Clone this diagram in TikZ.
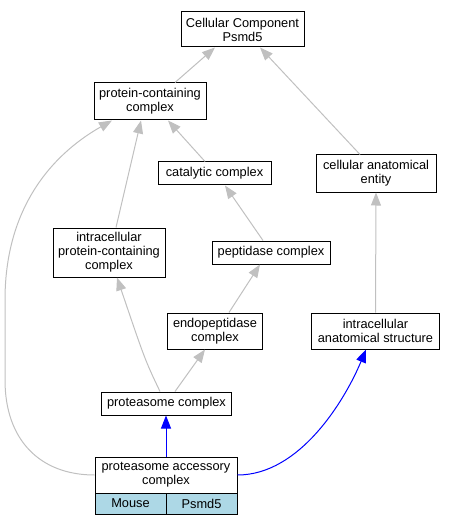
\documentclass[tikz,border=0pt]{standalone}
\usepackage{fontspec}
\setmainfont{Liberation Sans}
\usetikzlibrary{arrows.meta}
\definecolor{edgegray}{RGB}{192,192,192}
\definecolor{cellblue}{RGB}{173,216,230}
\tikzset{
  box/.style={draw=black, line width=1bp, fill=white, inner sep=0pt, align=center,
    font=\fontsize{12.8bp}{14bp}\selectfont},
  cell/.style={box, fill=cellblue, minimum width=71bp, minimum height=21bp},
  isa/.style={draw=edgegray, line width=1bp, -{Triangle[length=13bp,width=10bp]}},
  hit/.style={draw=blue, line width=1bp, -{Triangle[length=13bp,width=10bp]}},
}
\begin{document}
\begin{tikzpicture}[x=1bp,y=-1bp]
\useasboundingbox (0,0) rectangle (456,525);
\node[box, minimum width=123bp, minimum height=35bp] (cc) at (242.5,29.5) {Cellular Component\\Psmd5};
\node[box, minimum width=112bp, minimum height=37bp] (pcc) at (150,101.5) {protein-containing\\complex};
\node[box, minimum width=113bp, minimum height=23bp] (cat) at (214.5,173.5) {catalytic complex};
\node[box, minimum width=120bp, minimum height=37bp] (cae) at (376,173.5) {cellular anatomical\\entity};
\node[box, minimum width=112bp, minimum height=49bp] (ipcc) at (109,252.5) {intracellular\\protein-containing\\complex};
\node[box, minimum width=118bp, minimum height=23bp] (pep) at (271,252.5) {peptidase complex};
\node[box, minimum width=95bp, minimum height=36bp] (endo) at (215,331) {endopeptidase\\complex};
\node[box, minimum width=128bp, minimum height=36bp] (ias) at (375.5,331) {intracellular\\anatomical structure};
\node[box, minimum width=130bp, minimum height=23bp] (prot) at (166.5,403.5) {proteasome complex};
\node[box, minimum width=142bp, minimum height=36bp] (pac) at (166,475) {proteasome accessory\\complex};
\node[cell] (mouse) at (130.5,503.5) {Mouse};
\node[cell] (gene) at (201.5,503.5) {Psmd5};

\draw[isa] ([xshift=25bp]pcc.north) -- ([xshift=-27.5bp]cc.south);
\draw[isa] ([xshift=-16bp]cae.north) -- ([xshift=17.5bp]cc.south);
\draw[isa] ([xshift=-9.5bp]cat.north) -- ([xshift=18bp]pcc.south);
\draw[isa] ([xshift=7bp]ipcc.north) -- ([xshift=-9bp]pcc.south);
\draw[isa] (pac.west) .. controls (40,475) and (5,440) .. (5,380) -- (5,300)
  .. controls (5,200) and (60,150) .. ([xshift=-38bp]pcc.south);
\draw[isa] ([xshift=-8bp]pep.north) -- ([xshift=10.5bp]cat.south);
\draw[isa] ([xshift=14bp]endo.north) -- ([xshift=-11bp]pep.south);
\draw[isa] ([xshift=-6.5bp]prot.north) .. controls (145,360) .. ([xshift=8bp]ipcc.south);
\draw[isa] ([xshift=8.5bp]prot.north) -- ([xshift=-10bp]endo.south);
\draw[isa] (ias.north) -- (cae.south);
\draw[hit] (pac.north) -- (pac.north |- prot.south);
\draw[hit] (pac.east) .. controls (300,475) and (345,400) .. ([xshift=-9.5bp]ias.south);
\end{tikzpicture}
\end{document}
